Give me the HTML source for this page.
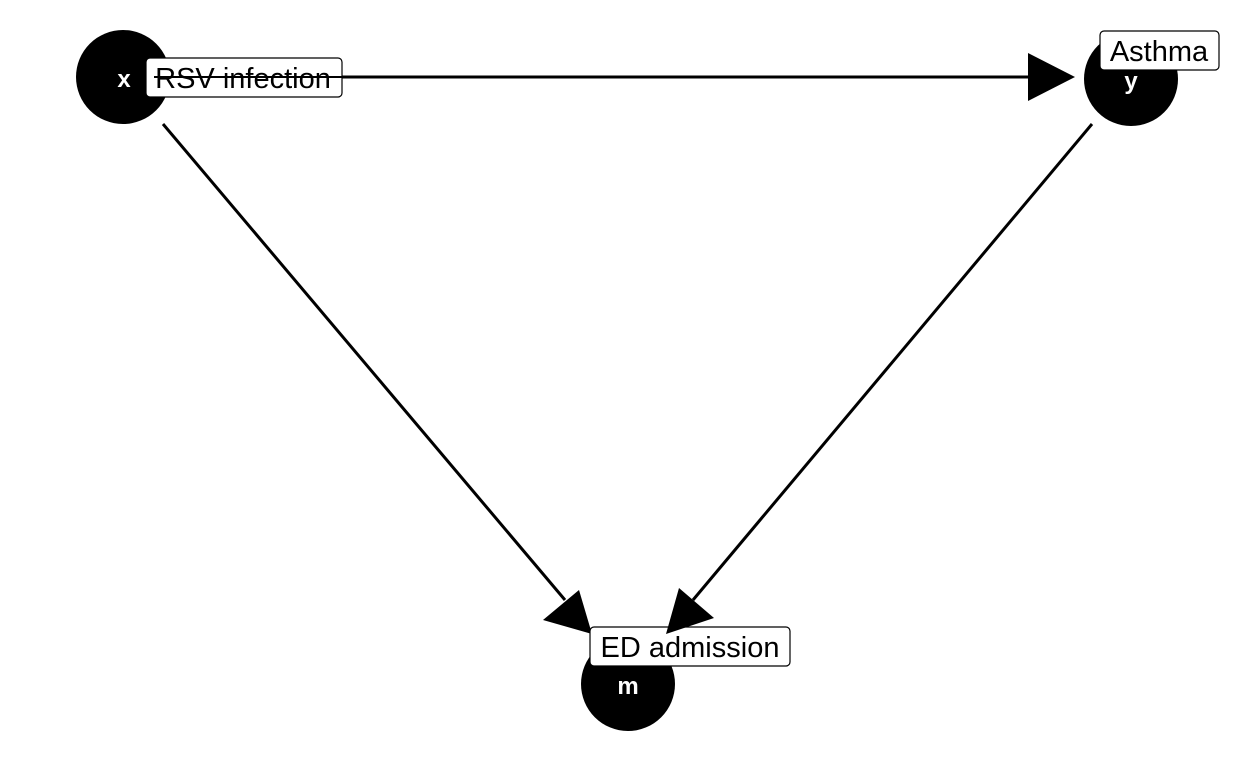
<!DOCTYPE html>
<html><head><style>body{margin:0;background:#fff}svg{display:block}</style></head>
<body>
<svg width="1248" height="768" xmlns="http://www.w3.org/2000/svg" font-family="Liberation Sans, sans-serif">
<rect width="1248" height="768" fill="#fff"/>
<circle cx="123" cy="77" r="47"/>
<circle cx="1131" cy="79" r="47"/>
<circle cx="628" cy="684" r="47"/>
<g stroke="#000" stroke-width="3">
<line x1="170" y1="77" x2="1035" y2="77"/>
<line x1="163" y1="124" x2="565" y2="600"/>
<line x1="1092" y1="124" x2="693" y2="600"/>
</g>
<polygon points="1075,77 1028,53 1028,101"/>
<polygon points="592,634 543,620 579,590"/>
<g fill="#fff" font-weight="bold" font-size="24" text-anchor="middle">
<text x="124" y="87">x</text>
<text x="1131" y="89">y</text>
<text x="628" y="694">m</text>
</g>
<g fill="#fff" stroke="#000" stroke-width="1.2">
<rect x="146" y="58" width="196" height="39" rx="4"/>
<rect x="1100" y="31" width="119" height="39" rx="4"/>
<rect x="590" y="627" width="200" height="39" rx="4"/>
</g>
<polygon points="666,634 679,588 714,618"/>
<g font-size="29" fill="#000" text-anchor="middle" textLength="10">
<text x="243" y="88">RSV infection</text>
<text x="1159" y="61">Asthma</text>
<text x="690" y="657">ED admission</text>
</g>
<line x1="154" y1="77" x2="342" y2="77" stroke="#000" stroke-width="2"/>
</svg>
</body></html>
